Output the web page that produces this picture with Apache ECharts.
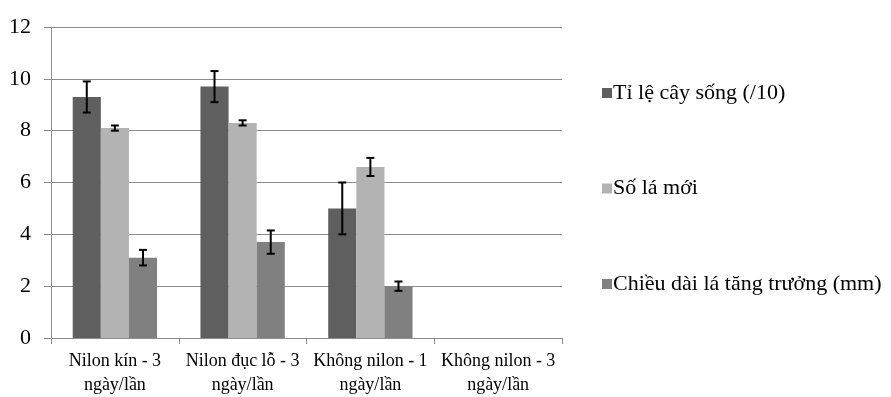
<!DOCTYPE html>
<html>
<head>
<meta charset="utf-8">
<script src="https://cdn.jsdelivr.net/npm/echarts@6/dist/echarts.min.js"></script>
<style>html,body{margin:0;padding:0;background:#fff}#c{width:891px;height:397px}</style>
</head>
<body>
<div id="c"></div>
<script>
var categories = ['Nilon kín - 3\nngày/lần', 'Nilon đục lỗ - 3\nngày/lần', 'Không nilon - 1\nngày/lần', 'Không nilon - 3\nngày/lần'];
var seriesNames = ['Tỉ lệ cây sống (/10)', 'Số lá mới', 'Chiều dài lá tăng trưởng (mm)'];
var survival = [9.3, 9.7, 5.0, 0];
var survivalErr = [0.6, 0.6, 1.0, null];
var newLeaves = [8.1, 8.3, 6.6, 0];
var newLeavesErr = [0.1, 0.1, 0.35, null];
var leafGrowth = [3.1, 3.7, 2.0, 0];
var leafGrowthErr = [0.3, 0.45, 0.18, null];
var yTicks = {min: 0, max: 12, interval: 2};

var colors = ['#5f5f5f', '#b3b3b3', '#808080'];
var values = [survival, newLeaves, leafGrowth];
var errors = [survivalErr, newLeavesErr, leafGrowthErr];
var gapFrac = 0.34;
var font = 'Liberation Serif, Times New Roman, serif';

function errSeries(si) {
  var data = [];
  for (var i = 0; i < categories.length; i++) {
    if (errors[si][i] != null) data.push([i, values[si][i], errors[si][i]]);
  }
  return {
    type: 'custom',
    name: 'err' + si,
    silent: true,
    z: 10,
    data: data,
    renderItem: function (params, api) {
      var ci = api.value(0), v = api.value(1), e = api.value(2);
      var band = api.size([1, 0])[0];
      var bw = band * (1 - gapFrac) / 3;
      var c = api.coord([ci, v]);
      var x = c[0] + (si - 1) * bw;
      var top = api.coord([ci, v + e])[1];
      var bot = api.coord([ci, v - e])[1];
      var cap = 4;
      var st = {stroke: '#000', lineWidth: 2};
      return {
        type: 'group',
        children: [
          {type: 'line', shape: {x1: x, y1: top, x2: x, y2: bot}, style: st},
          {type: 'line', shape: {x1: x - cap, y1: top, x2: x + cap, y2: top}, style: st},
          {type: 'line', shape: {x1: x - cap, y1: bot, x2: x + cap, y2: bot}, style: st}
        ]
      };
    }
  };
}

var series = [];
for (var s = 0; s < 3; s++) {
  series.push({
    type: 'bar',
    name: seriesNames[s],
    data: values[s],
    barGap: '0%',
    barCategoryGap: (gapFrac * 100) + '%',
    itemStyle: {color: colors[s]},
    silent: true
  });
}
for (var s2 = 0; s2 < 3; s2++) series.push(errSeries(s2));

var chart = echarts.init(document.getElementById('c'));
chart.setOption({
  animation: false,
  color: colors,
  grid: {left: 51, right: 329, top: 27, bottom: 58},
  legend: {
    orient: 'vertical',
    left: 597,
    top: 77,
    itemGap: 73.5,
    itemWidth: 10,
    itemHeight: 10,
    icon: 'rect',
    data: seriesNames,
    textStyle: {fontFamily: font, fontSize: 22, color: '#000', padding: [0, 0, 0, -4]}
  },
  xAxis: {
    type: 'category',
    data: categories,
    axisLine: {lineStyle: {color: '#8c8c8c', width: 1}},
    axisTick: {show: true, length: 6, lineStyle: {color: '#8c8c8c'}},
    axisLabel: {fontFamily: font, fontSize: 18, color: '#000', lineHeight: 24, margin: 11, interval: 0}
  },
  yAxis: {
    type: 'value',
    min: yTicks.min,
    max: yTicks.max,
    interval: yTicks.interval,
    axisLine: {show: true, lineStyle: {color: '#8c8c8c'}},
    axisTick: {show: true, length: 7, inside: false, lineStyle: {color: '#8c8c8c'}},
    splitLine: {lineStyle: {color: '#8c8c8c', width: 1}},
    axisLabel: {fontFamily: font, fontSize: 22, color: '#000', margin: 20}
  },
  series: series
});
</script>
</body>
</html>
